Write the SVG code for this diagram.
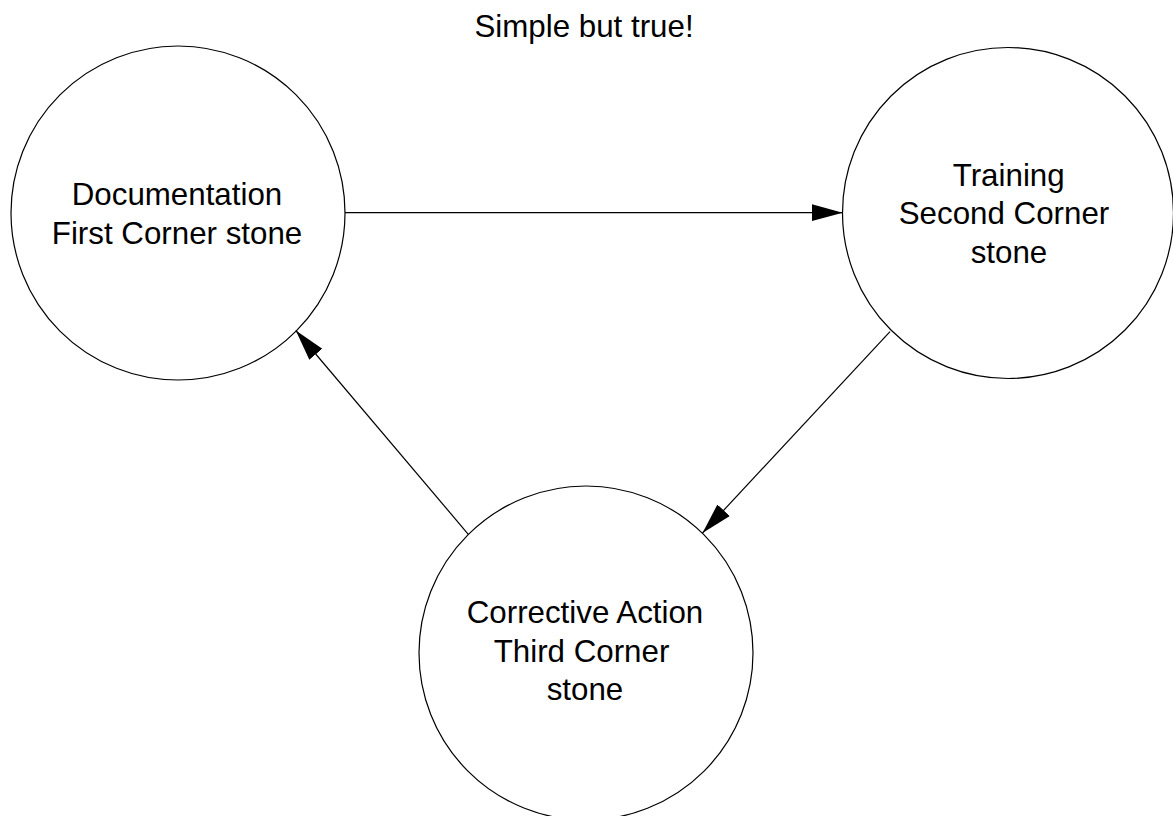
<svg xmlns="http://www.w3.org/2000/svg" width="1173" height="816" viewBox="0 0 1173 816">
<style>
.node{fill:#ffffff;stroke:#000000;stroke-width:1.2}
.lbl{font-family:"Liberation Sans",Arial,sans-serif;font-size:31.3px;fill:#000000;text-anchor:middle}
.edge{fill:none;stroke:#000000;stroke-width:1.2}
</style>
<defs>
<marker id="arr" markerUnits="userSpaceOnUse" markerWidth="31" markerHeight="18" refX="31" refY="8.5" orient="auto" viewBox="0 0 31 17">
<path d="M0,0 L31,8.5 L0,17 Z" fill="#000000"/>
</marker>
</defs>
<rect width="1173" height="816" fill="#ffffff"/>
<text class="lbl" x="584" y="36.7">Simple but true!</text>
<g id="node-documentation">
<circle class="node" cx="178" cy="213" r="167"/>
<text class="lbl" x="177" y="205">Documentation</text>
<text class="lbl" x="177" y="244">First Corner stone</text>
</g>
<g id="node-training">
<circle class="node" cx="1008" cy="213" r="165.5"/>
<text class="lbl" x="1008.7" y="185.7">Training</text>
<text class="lbl" x="1004" y="224.3">Second Corner</text>
<text class="lbl" x="1009" y="263.3">stone</text>
</g>
<g id="node-corrective">
<circle class="node" cx="586" cy="653" r="167"/>
<text class="lbl" x="585" y="623.3">Corrective Action</text>
<text class="lbl" x="581.5" y="661.7">Third Corner</text>
<text class="lbl" x="585" y="700">stone</text>
</g>
<g id="connectors">
<line class="edge" x1="345" y1="212.7" x2="842.7" y2="212.7" marker-end="url(#arr)"/>
<line class="edge" x1="890" y1="331.7" x2="702.5" y2="533" marker-end="url(#arr)"/>
<line class="edge" x1="468.3" y1="534.3" x2="295.8" y2="330.5" marker-end="url(#arr)"/>
</g>
</svg>
